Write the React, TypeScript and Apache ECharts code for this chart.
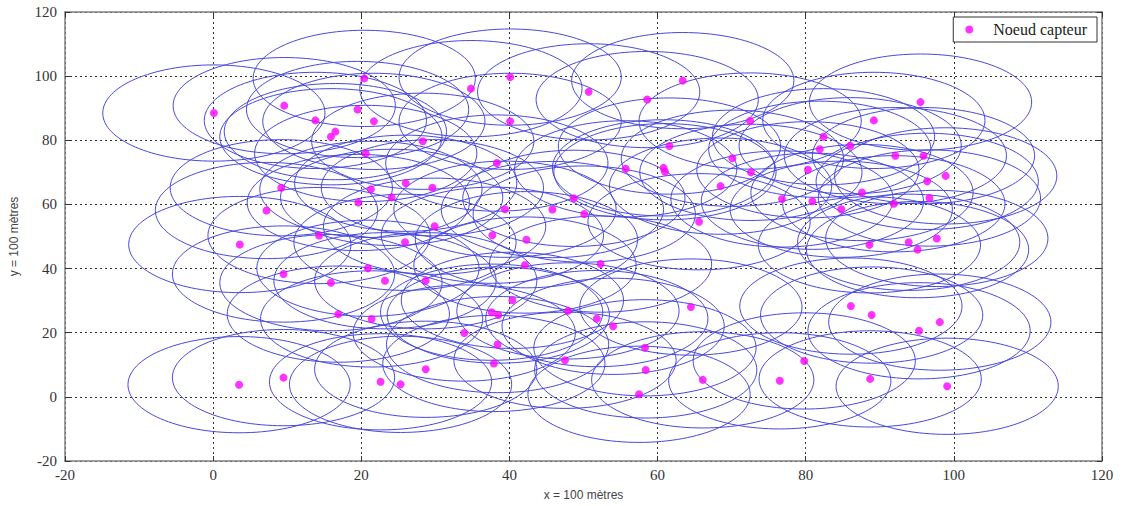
import React, { useEffect, useRef } from "react";
import * as echarts from "echarts";

// Sensor node positions (x, y) in metres
const nodeX: number[] = [
  0.1, 20.4, 9.6, 13.8, 19.5, 21.7, 16.5, 15.9, 20.6, 28.3,
  26.0, 9.2, 21.3, 24.1, 19.6, 7.2, 14.3, 3.6, 25.9, 34.8,
  40.1, 50.7, 63.4, 58.6, 40.1, 72.5, 61.6, 38.3, 70.1, 55.7,
  60.8, 61.0, 72.6, 29.6, 68.5, 48.7, 39.4, 45.8, 50.1, 65.6,
  29.9, 37.7, 42.3, 95.5, 89.2, 82.4, 81.9, 86.0, 92.1, 95.9,
  80.3, 98.9, 96.4, 87.6, 96.7, 76.8, 80.9, 91.9, 84.8, 97.7,
  93.9, 88.6, 95.1, 20.9, 9.5, 15.9, 23.2, 16.9, 21.4, 9.5,
  3.5, 22.6, 25.3, 42.1, 52.3, 28.7, 40.4, 37.6, 38.5, 47.9,
  51.8, 54.0, 64.5, 33.9, 38.4, 58.3, 37.9, 47.5, 28.7, 58.4,
  66.1, 57.5, 86.1, 88.9, 98.1, 95.3, 79.8, 76.5, 88.7, 99.1,
];
const nodeY: number[] = [
  88.5, 99.3, 90.8, 86.2, 89.6, 85.9, 82.7, 81.1, 75.9, 79.7,
  66.6, 65.2, 64.7, 62.2, 60.6, 58.1, 50.3, 47.5, 48.2, 96.1,
  99.7, 95.1, 98.6, 92.7, 85.9, 86.0, 78.2, 72.9, 74.4, 71.1,
  71.4, 70.2, 70.0, 65.2, 65.7, 61.9, 58.5, 58.4, 57.0, 54.6,
  53.2, 50.4, 49.0, 91.9, 86.2, 81.1, 77.2, 78.3, 75.2, 75.2,
  70.8, 68.9, 67.2, 63.7, 62.0, 61.7, 61.0, 60.2, 58.5, 49.4,
  48.2, 47.4, 45.9, 40.1, 38.3, 35.6, 36.2, 25.8, 24.3, 6.0,
  3.8, 4.7, 3.9, 41.1, 41.4, 36.2, 30.1, 26.4, 25.5, 26.8,
  24.4, 22.0, 28.0, 19.9, 16.3, 15.3, 10.4, 11.4, 8.6, 8.4,
  5.3, 0.8, 28.3, 25.5, 23.3, 20.6, 11.2, 5.0, 5.6, 3.3,
];
// Communication range of each node (metres)
const RANGE = 15;
const AXIS_MIN = -20;
const AXIS_MAX = 120;
const AXIS_STEP = 20;
const LEGEND_LABEL = "Noeud capteur";
const X_NAME = "x = 100 mètres";
const Y_NAME = "y = 100 mètres";

export default function App() {
  const ref = useRef<HTMLDivElement>(null);

  useEffect(() => {
    if (!ref.current) return;
    const chart = echarts.init(ref.current, null, { renderer: "svg" });
    const points = nodeX.map((x, i) => [x, nodeY[i]]);

    const tickFont = {
      fontFamily: "Liberation Serif",
      fontSize: 15,
      color: "#333",
    };
    const axisLine = { show: true, onZero: false, lineStyle: { color: "#808080", width: 1.5 } };
    const axisTick = { show: true, inside: true, length: 5, lineStyle: { color: "#333", width: 1 } };
    const splitLine = {
      show: true,
      lineStyle: { color: "#333", width: 1, type: [2, 3] as any },
    };
    const nameStyle = {
      fontFamily: "Liberation Sans",
      fontSize: 12,
      color: "#444",
    };

    chart.setOption({
      animation: false,
      backgroundColor: "#fff",
      grid: { left: 63, right: 21, top: 12, bottom: 37, containLabel: false },
      legend: {
        data: [LEGEND_LABEL],
        right: 26,
        top: 17,
        orient: "horizontal",
        backgroundColor: "#fff",
        borderColor: "#333",
        borderWidth: 1,
        borderRadius: 0,
        padding: [4.5, 10, 4.5, 12],
        itemWidth: 30,
        itemHeight: 8,
        itemGap: 5,
        textStyle: {
          fontFamily: "Liberation Serif",
          fontSize: 16,
          lineHeight: 16,
          color: "#222",
          padding: [0, 0, 0, 4],
        },
      },
      xAxis: [
        {
          type: "value",
          position: "bottom",
          min: AXIS_MIN,
          max: AXIS_MAX,
          interval: AXIS_STEP,
          name: X_NAME,
          nameLocation: "middle",
          nameGap: 28,
          nameTextStyle: nameStyle,
          axisLine,
          axisTick,
          axisLabel: { ...tickFont, margin: 6 },
          splitLine,
        },
        {
          type: "value",
          position: "top",
          min: AXIS_MIN,
          max: AXIS_MAX,
          interval: AXIS_STEP,
          axisLine,
          axisTick,
          axisLabel: { show: false },
          splitLine: { show: false },
        },
      ],
      yAxis: [
        {
          type: "value",
          position: "left",
          min: AXIS_MIN,
          max: AXIS_MAX,
          interval: AXIS_STEP,
          name: Y_NAME,
          nameLocation: "middle",
          nameGap: 45,
          nameRotate: 90,
          nameTextStyle: nameStyle,
          axisLine,
          axisTick,
          axisLabel: { ...tickFont, margin: 8 },
          splitLine,
        },
        {
          type: "value",
          position: "right",
          min: AXIS_MIN,
          max: AXIS_MAX,
          interval: AXIS_STEP,
          axisLine,
          axisTick,
          axisLabel: { show: false },
          splitLine: { show: false },
        },
      ],
      series: [
        {
          type: "custom",
          name: "range",
          xAxisIndex: 0,
          yAxisIndex: 0,
          data: points,
          encode: { x: 0, y: 1 },
          z: 2,
          silent: true,
          renderItem: (_params: any, api: any) => {
            const c = api.coord([api.value(0), api.value(1)]);
            const s = api.size([RANGE, RANGE]);
            return {
              type: "ellipse",
              shape: { cx: c[0], cy: c[1], rx: s[0], ry: s[1] },
              style: { fill: "none", stroke: "#4848dc", lineWidth: 1 },
            };
          },
        },
        {
          type: "scatter",
          name: LEGEND_LABEL,
          xAxisIndex: 0,
          yAxisIndex: 0,
          data: points,
          symbol: "circle",
          symbolSize: 8,
          itemStyle: { color: "#ff00ff" },
          z: 5,
        },
      ],
    });

    return () => chart.dispose();
  }, []);

  return (
    <div
      ref={ref}
      style={{ position: "fixed", left: 0, top: 0, width: 1123, height: 506, background: "#fff" }}
    />
  );
}
